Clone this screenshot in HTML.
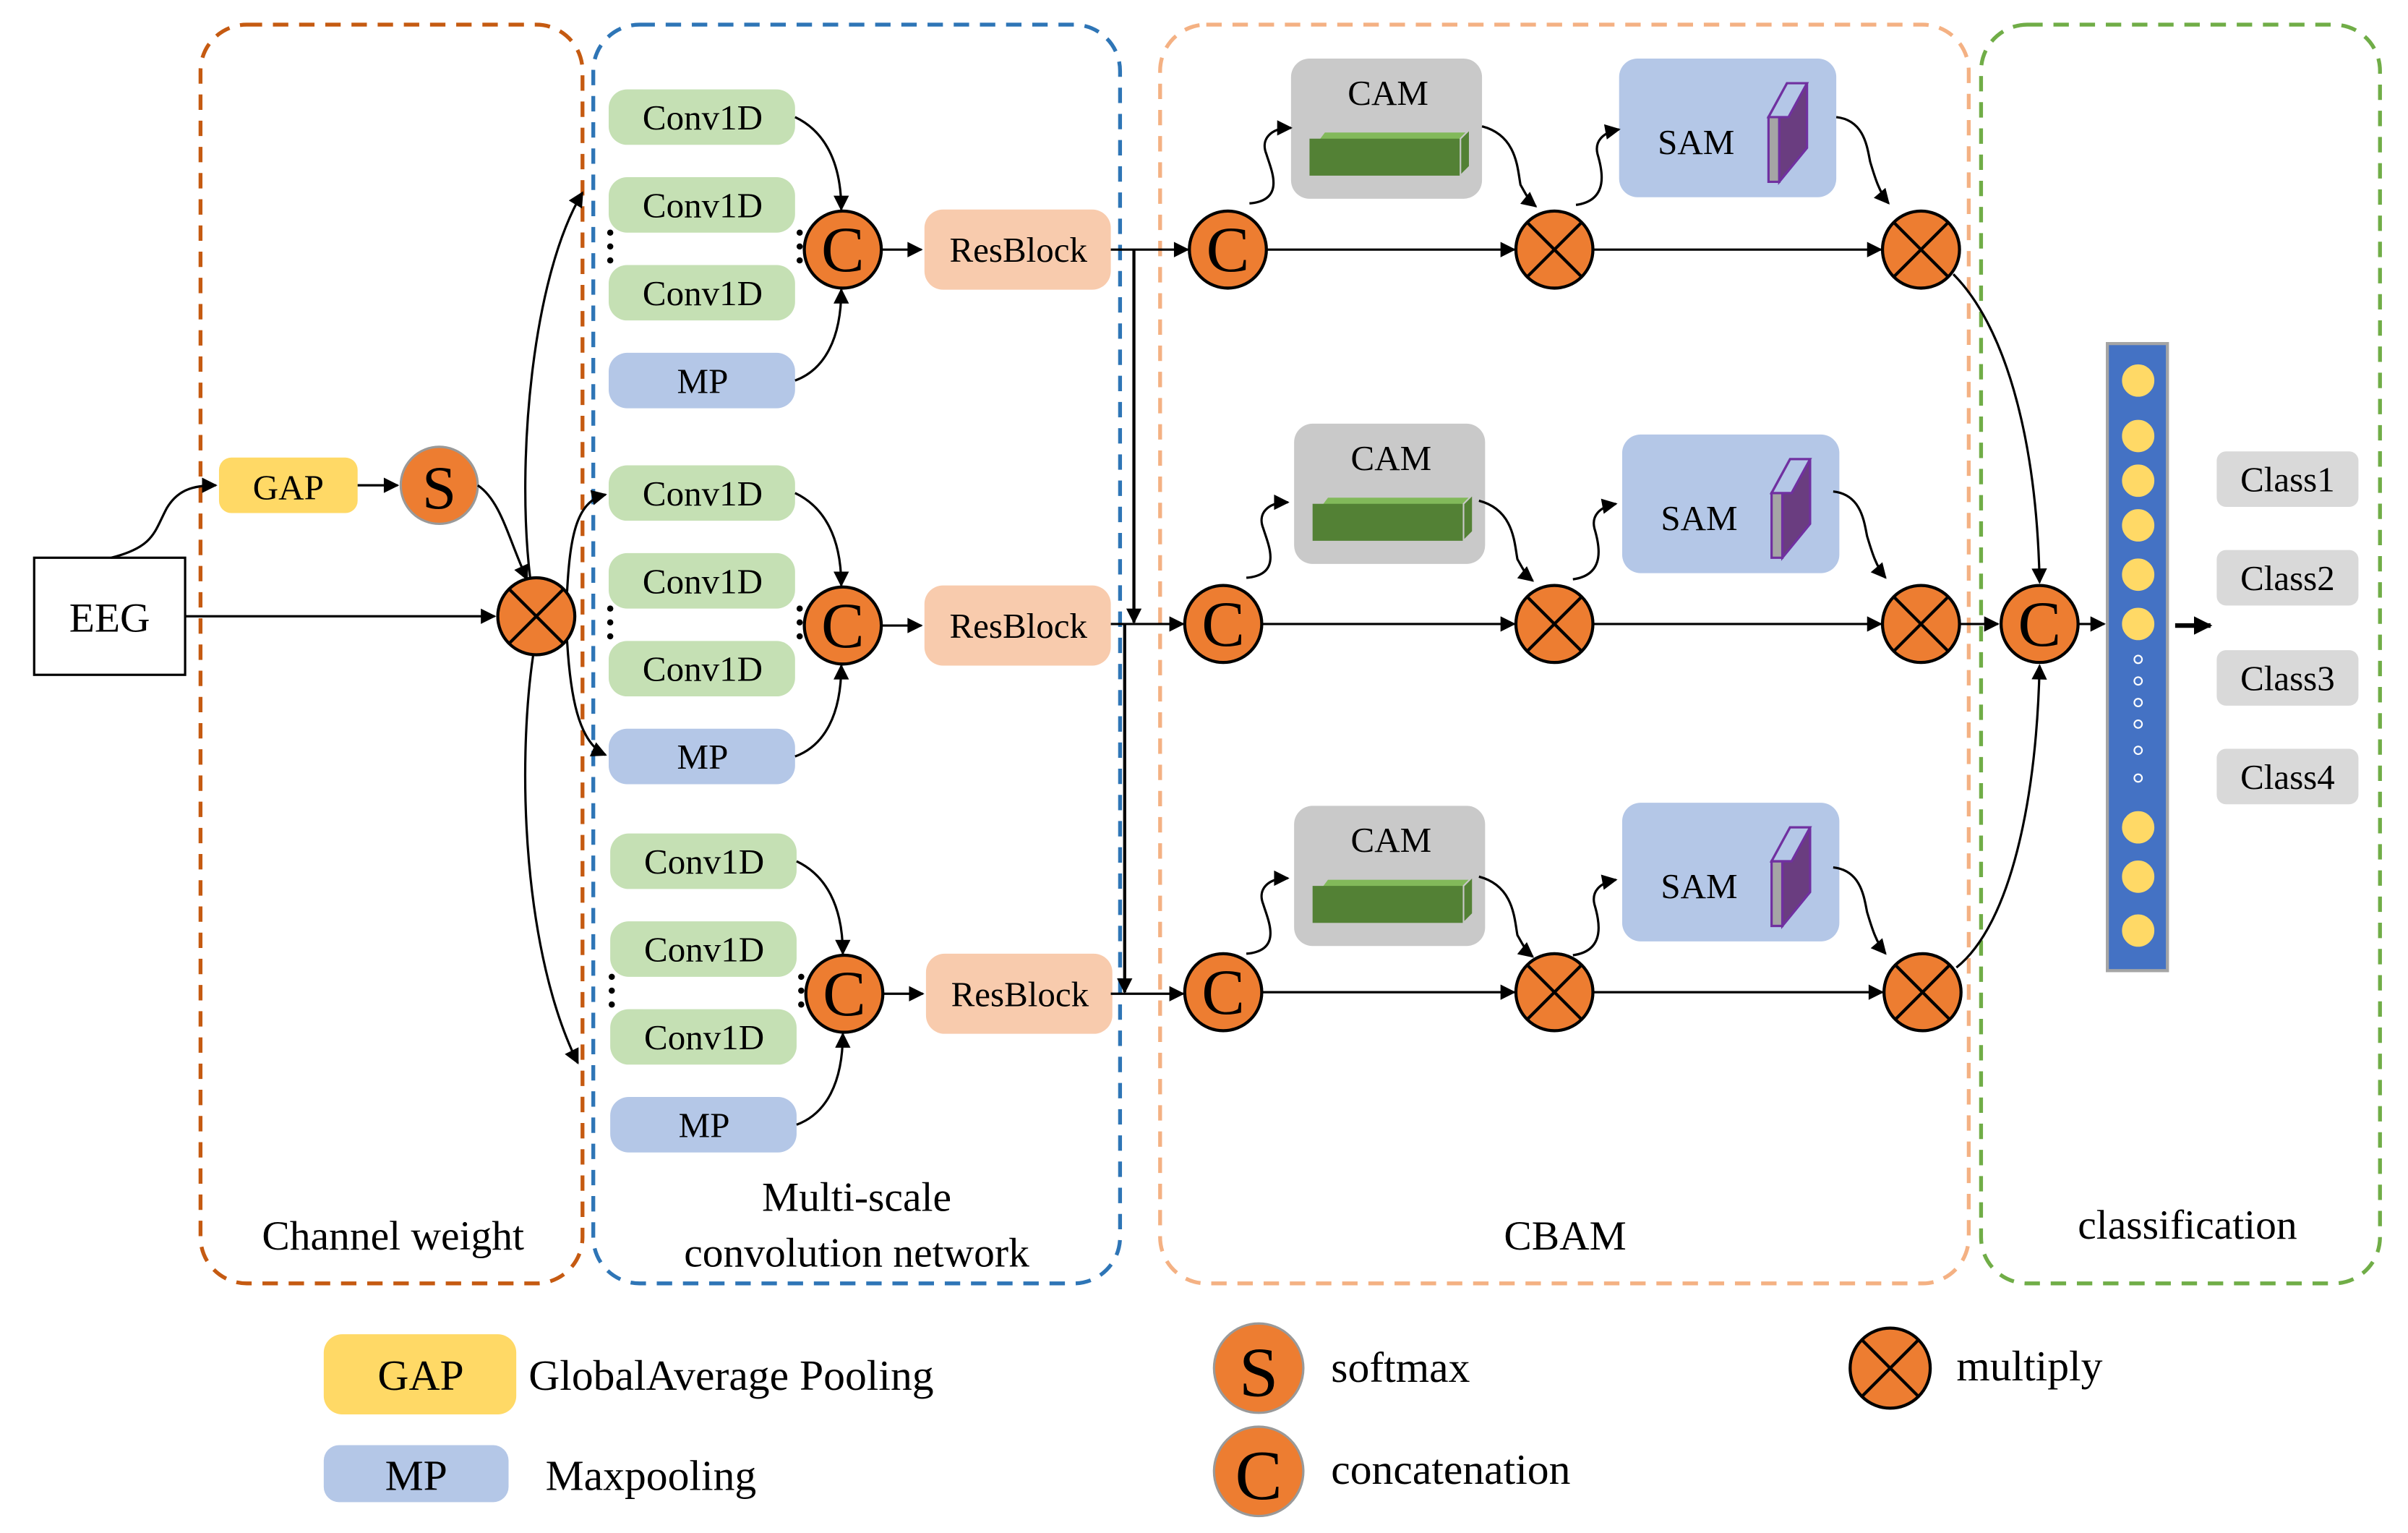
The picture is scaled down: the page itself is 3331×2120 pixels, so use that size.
<!DOCTYPE html>
<html><head><meta charset="utf-8"><style>
html,body{margin:0;padding:0;background:#fff;}
svg{display:block;font-family:"Liberation Serif","Times New Roman",serif;}
svg text{font-family:"Liberation Serif","Times New Roman",serif;fill:#000;}
</style></head><body>
<svg width="3331" height="2120" viewBox="0 0 1563 995" xmlns="http://www.w3.org/2000/svg" font-family="Liberation Serif, serif">
<defs>
<marker id="a" viewBox="0 0 10 10" refX="9" refY="5" markerWidth="11" markerHeight="10" markerUnits="userSpaceOnUse" orient="auto"><path d="M0,0 L10,5 L0,10 z" fill="#000"/></marker>
<marker id="b" viewBox="0 0 10 10" refX="9" refY="5" markerWidth="12" markerHeight="12" markerUnits="userSpaceOnUse" orient="auto"><path d="M0,0 L10,5 L0,10 z" fill="#000"/></marker>
<g id="mul"><circle r="25" fill="#ed7d31" stroke="#000" stroke-width="2"/><path d="M-17.7,-17.7 L17.7,17.7 M17.7,-17.7 L-17.7,17.7" stroke="#000" stroke-width="2"/></g>
<g id="cc"><circle r="25" fill="#ed7d31" stroke="#000" stroke-width="2"/><text y="14" text-anchor="middle" font-size="42">C</text></g>
<g id="cam"><rect x="0" y="0" width="124" height="91" rx="12" fill="#c9c9c9"/><text x="63" y="30" text-anchor="middle" font-size="23">CAM</text><polygon points="16,56 110,56 116,48 22,48" fill="#82b95a"/><rect x="12" y="52" width="98" height="24" fill="#538135"/><polygon points="110,52 116,46 116,70 110,76" fill="#538135" stroke="#c9c9c9" stroke-width="1"/></g>
<g id="sam"><rect x="0" y="0" width="141" height="90" rx="12" fill="#b4c7e7"/><text x="50" y="62" text-anchor="middle" font-size="23">SAM</text><polygon points="97,38 104,38 104,80 97,80" fill="#a5a5a5" stroke="#7030a0" stroke-width="1.5"/><polygon points="97,38 109,16 122,16 122,58 104,80 104,38" fill="#6a3d80" stroke="#7030a0" stroke-width="1.5"/><polygon points="97,38 109,16 122,16 110,38" fill="#b4c7e7" stroke="#7030a0" stroke-width="1.5"/></g>
</defs>

<rect x="130" y="16" width="248" height="817" rx="30" fill="none" stroke="#c55a11" stroke-width="2.5" stroke-dasharray="10,7"/>
<rect x="385" y="16" width="342" height="817" rx="30" fill="none" stroke="#2e75b6" stroke-width="2.5" stroke-dasharray="10,7"/>
<rect x="753" y="16" width="525" height="817" rx="30" fill="none" stroke="#f4b183" stroke-width="2.5" stroke-dasharray="10,7"/>
<rect x="1286" y="16" width="259" height="817" rx="30" fill="none" stroke="#70ad47" stroke-width="2.5" stroke-dasharray="10,7"/>

<text x="255" y="811" text-anchor="middle" font-size="27">Channel weight</text>
<text x="556" y="786" text-anchor="middle" font-size="27">Multi-scale</text>
<text x="556" y="822" text-anchor="middle" font-size="27">convolution network</text>
<text x="1016" y="811" text-anchor="middle" font-size="27">CBAM</text>
<text x="1420" y="804" text-anchor="middle" font-size="27">classification</text>

<rect x="22" y="362" width="98" height="76" fill="#fff" stroke="#000" stroke-width="1.5"/>
<text x="71" y="410" text-anchor="middle" font-size="27">EEG</text>
<line x1="120" y1="400" x2="321" y2="400" stroke="#000" stroke-width="1.5" marker-end="url(#a)"/>
<path d="M72,362 C100,355 100,345 108,330 C115,318 125,315 140,315" fill="none" stroke="#000" stroke-width="1.5" marker-end="url(#a)"/>
<rect x="142" y="297" width="90" height="36" rx="8" fill="#ffd966"/>
<text x="187" y="324" text-anchor="middle" font-size="23">GAP</text>
<line x1="232" y1="315" x2="258" y2="315" stroke="#000" stroke-width="1.5" marker-end="url(#a)"/>
<circle cx="285" cy="315" r="25" fill="#ed7d31" stroke="#999" stroke-width="1.5"/>
<text x="285" y="330" text-anchor="middle" font-size="40">S</text>
<path d="M310,315 C325,325 330,350 342,376" fill="none" stroke="#000" stroke-width="1.5" marker-end="url(#a)"/>
<use href="#mul" x="348" y="400"/>
<path d="M344,375 C335,300 345,180 378,125" fill="none" stroke="#000" stroke-width="1.5" marker-end="url(#a)"/>
<path d="M346,425 C335,500 340,620 375,690" fill="none" stroke="#000" stroke-width="1.5" marker-end="url(#a)"/>
<path d="M368,384 C370,345 375,325 393,321" fill="none" stroke="#000" stroke-width="1.5" marker-end="url(#a)"/>
<path d="M368,416 C370,450 375,482 393,490" fill="none" stroke="#000" stroke-width="1.5" marker-end="url(#a)"/>

<g id="grp">
<rect x="395" y="58" width="121" height="36" rx="12" fill="#c5e0b4"/><text x="456" y="84" text-anchor="middle" font-size="23">Conv1D</text>
<rect x="395" y="115" width="121" height="36" rx="12" fill="#c5e0b4"/><text x="456" y="141" text-anchor="middle" font-size="23">Conv1D</text>
<rect x="395" y="172" width="121" height="36" rx="12" fill="#c5e0b4"/><text x="456" y="198" text-anchor="middle" font-size="23">Conv1D</text>
<rect x="395" y="229" width="121" height="36" rx="12" fill="#b4c7e7"/><text x="456" y="255" text-anchor="middle" font-size="23">MP</text>
<circle cx="396" cy="151" r="2"/><circle cx="396" cy="160" r="2"/><circle cx="396" cy="169" r="2"/>
<circle cx="519" cy="151" r="2"/><circle cx="519" cy="160" r="2"/><circle cx="519" cy="169" r="2"/>
<path d="M516,76 C535,85 546,105 546,136" fill="none" stroke="#000" stroke-width="1.5" marker-end="url(#a)"/>
<path d="M516,247 C535,240 546,220 546,188" fill="none" stroke="#000" stroke-width="1.5" marker-end="url(#a)"/>
<use href="#cc" x="547" y="162"/>
<line x1="572" y1="162" x2="598" y2="162" stroke="#000" stroke-width="1.5" marker-end="url(#a)"/>
<rect x="600" y="136" width="121" height="52" rx="12" fill="#f8cbad"/><text x="661" y="170" text-anchor="middle" font-size="23">ResBlock</text>
</g>
<use href="#grp" y="244"/>
<use href="#grp" x="1" y="483"/>

<line x1="721" y1="162" x2="771" y2="162" stroke="#000" stroke-width="1.5" marker-end="url(#a)"/>
<line x1="721" y1="405" x2="768" y2="405" stroke="#000" stroke-width="1.5" marker-end="url(#a)"/>
<line x1="721" y1="645" x2="768" y2="645" stroke="#000" stroke-width="1.5" marker-end="url(#a)"/>
<line x1="736" y1="162" x2="736" y2="404" stroke="#000" stroke-width="2" marker-end="url(#a)"/>
<line x1="730" y1="405" x2="730" y2="644" stroke="#000" stroke-width="2" marker-end="url(#a)"/>

<use href="#cc" x="797" y="162"/>
<use href="#cc" x="794" y="405"/>
<use href="#cc" x="794" y="644"/>
<use href="#mul" x="1009" y="162"/>
<use href="#mul" x="1009" y="405"/>
<use href="#mul" x="1009" y="644"/>
<use href="#mul" x="1247" y="162"/>
<use href="#mul" x="1247" y="405"/>
<use href="#mul" x="1248" y="644"/>
<line x1="822" y1="162" x2="983" y2="162" stroke="#000" stroke-width="1.5" marker-end="url(#a)"/>
<line x1="1034" y1="162" x2="1221" y2="162" stroke="#000" stroke-width="1.5" marker-end="url(#a)"/>
<line x1="819" y1="405" x2="983" y2="405" stroke="#000" stroke-width="1.5" marker-end="url(#a)"/>
<line x1="1034" y1="405" x2="1221" y2="405" stroke="#000" stroke-width="1.5" marker-end="url(#a)"/>
<line x1="819" y1="644" x2="983" y2="644" stroke="#000" stroke-width="1.5" marker-end="url(#a)"/>
<line x1="1034" y1="644" x2="1222" y2="644" stroke="#000" stroke-width="1.5" marker-end="url(#a)"/>

<use href="#cam" x="838" y="38"/>
<use href="#cam" x="840" y="275"/>
<use href="#cam" x="840" y="523"/>
<use href="#sam" x="1051" y="38"/>
<use href="#sam" x="1053" y="282"/>
<use href="#sam" x="1053" y="521"/>

<g id="curves" fill="none" stroke="#000" stroke-width="1.5">
<path d="M811,132 C835,130 825,110 822,100 C818,90 825,83 838,83" marker-end="url(#a)"/>
<path d="M962,82 C985,88 985,110 987,120 C990,125 992,130 997,134" marker-end="url(#a)"/>
<path d="M1023,133 C1045,130 1040,110 1037,100 C1035,92 1040,86 1051,84" marker-end="url(#a)"/>
<path d="M1192,76 C1210,78 1212,95 1214,105 C1217,115 1220,125 1226,132" marker-end="url(#a)"/>
</g>
<use href="#curves" x="-2" y="243"/>
<use href="#curves" x="-2" y="487"/>

<path d="M1268,178 C1300,210 1322,280 1324,378" fill="none" stroke="#000" stroke-width="1.5" marker-end="url(#a)"/>
<path d="M1270,628 C1305,600 1322,520 1324,432" fill="none" stroke="#000" stroke-width="1.5" marker-end="url(#a)"/>
<line x1="1272" y1="405" x2="1297" y2="405" stroke="#000" stroke-width="1.5" marker-end="url(#a)"/>
<use href="#cc" x="1324" y="405"/>
<line x1="1349" y1="405" x2="1366" y2="405" stroke="#000" stroke-width="1.5" marker-end="url(#a)"/>

<rect x="1368" y="223" width="39" height="407" fill="#4472c4" stroke="#a5a5a5" stroke-width="2"/>
<g fill="#ffd966" stroke="#4472c4" stroke-width="1">
<circle cx="1388" cy="247" r="11"/><circle cx="1388" cy="283" r="11"/><circle cx="1388" cy="312" r="11"/><circle cx="1388" cy="341" r="11"/><circle cx="1388" cy="373" r="11"/><circle cx="1388" cy="405" r="11"/>
<circle cx="1388" cy="537" r="11"/><circle cx="1388" cy="569" r="11"/><circle cx="1388" cy="604" r="11"/>
</g>
<g fill="#4472c4" stroke="#fff" stroke-width="1">
<circle cx="1388" cy="428" r="2.5"/><circle cx="1388" cy="442" r="2.5"/><circle cx="1388" cy="456" r="2.5"/><circle cx="1388" cy="470" r="2.5"/><circle cx="1388" cy="487" r="2.5"/><circle cx="1388" cy="505" r="2.5"/>
</g>
<line x1="1412" y1="406" x2="1435" y2="406" stroke="#000" stroke-width="3" marker-end="url(#b)"/>

<g font-size="23">
<rect x="1439" y="293" width="92" height="36" rx="6" fill="#d9d9d9"/><text x="1485" y="319" text-anchor="middle">Class1</text>
<rect x="1439" y="357" width="92" height="36" rx="6" fill="#d9d9d9"/><text x="1485" y="383" text-anchor="middle">Class2</text>
<rect x="1439" y="422" width="92" height="36" rx="6" fill="#d9d9d9"/><text x="1485" y="448" text-anchor="middle">Class3</text>
<rect x="1439" y="486" width="92" height="36" rx="6" fill="#d9d9d9"/><text x="1485" y="512" text-anchor="middle">Class4</text>
</g>

<rect x="210" y="866" width="125" height="52" rx="12" fill="#ffd966"/>
<text x="273" y="902" text-anchor="middle" font-size="28">GAP</text>
<text x="343" y="902" font-size="28">GlobalAverage Pooling</text>
<rect x="210" y="938" width="120" height="37" rx="10" fill="#b4c7e7"/>
<text x="270" y="967" text-anchor="middle" font-size="28">MP</text>
<text x="354" y="967" font-size="28">Maxpooling</text>
<circle cx="817" cy="888" r="29" fill="#ed7d31" stroke="#999" stroke-width="1.5"/>
<text x="817" y="906" text-anchor="middle" font-size="46">S</text>
<text x="864" y="897" font-size="28">softmax</text>
<circle cx="817" cy="955" r="29" fill="#ed7d31" stroke="#999" stroke-width="1.5"/>
<text x="817" y="973" text-anchor="middle" font-size="46">C</text>
<text x="864" y="963" font-size="28">concatenation</text>
<circle cx="1227" cy="888" r="26" fill="#ed7d31" stroke="#000" stroke-width="2"/>
<path d="M1208.6,869.6 L1245.4,906.4 M1245.4,869.6 L1208.6,906.4" stroke="#000" stroke-width="2"/>
<text x="1270" y="896" font-size="28">multiply</text>
</svg>
</body></html>
